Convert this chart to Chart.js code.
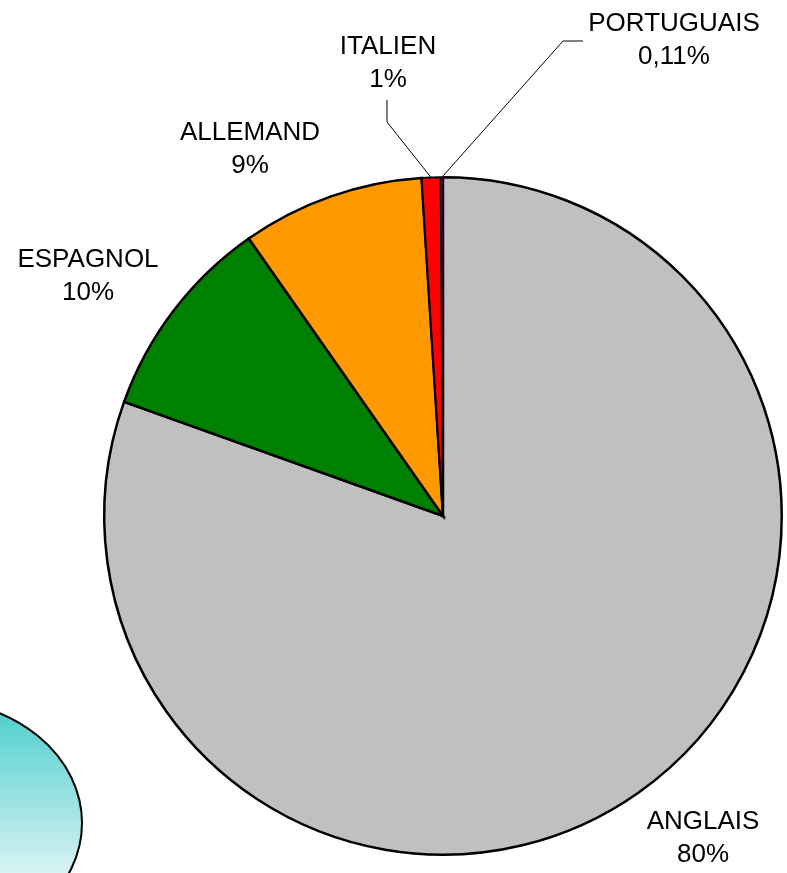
<!DOCTYPE html>
<html>
<head>
<meta charset="utf-8">
<script src="https://cdn.jsdelivr.net/npm/chart.js@4/dist/chart.umd.min.js"></script>
<style>
  html, body { margin: 0; padding: 0; background: #fff; }
  #wrap { width: 787px; height: 873px; position: relative; }
</style>
</head>
<body>
<div id="wrap"><canvas id="pie" width="787" height="873"></canvas></div>
<script>
const langues = ['ANGLAIS', 'ESPAGNOL', 'ALLEMAND', 'ITALIEN', 'PORTUGUAIS'];
const parts = [80.4, 9.8, 8.7, 0.9, 0.11];
const couleurs = ['#C0C0C0', '#008000', '#FF9900', '#FF0000', '#660066'];

// where each label sits, relative to the pie centre (layout only)
const labelPos = [
  { dx: 260, dy: 322 },
  { dx: -355, dy: -240 },
  { dx: -193, dy: -367 },
  { dx: -55, dy: -453, leader: [[-56, -394], [-56, -416]] },
  { dx: 231, dy: -476, leader: [[120, -475], [140, -475]] }
];

function fmtPct(v, total) {
  const p = v / total * 100;
  if (p < 0.5) return p.toFixed(2).replace('.', ',') + '%';
  return Math.round(p) + '%';
}

const backdrop = {
  id: 'backdrop',
  beforeDraw(chart) {
    const ctx = chart.ctx;
    ctx.save();
    const g = ctx.createLinearGradient(0, 700, 0, 946);
    g.addColorStop(0, '#48CCCC');
    g.addColorStop(0.75, '#E2F5F5');
    g.addColorStop(1, '#F2FBFB');
    ctx.beginPath();
    ctx.ellipse(-68, 823, 150, 123, 0, 0, Math.PI * 2);
    ctx.fillStyle = g;
    ctx.fill();
    ctx.lineWidth = 2;
    ctx.strokeStyle = '#000';
    ctx.stroke();
    ctx.restore();
  }
};

const pieLabels = {
  id: 'pieLabels',
  afterDraw(chart) {
    const ctx = chart.ctx;
    const meta = chart.getDatasetMeta(0);
    const data = chart.data.datasets[0].data;
    const total = data.reduce((a, b) => a + b, 0);
    ctx.save();
    ctx.font = '26px "Liberation Sans", Arial, sans-serif';
    ctx.fillStyle = '#000';
    ctx.textAlign = 'center';
    ctx.textBaseline = 'middle';
    meta.data.forEach((arc, i) => {
      const pos = labelPos[i];
      const cx = arc.x, cy = arc.y;
      const mid = (arc.startAngle + arc.endAngle) / 2;
      if (pos.leader) {
        const ex = cx + arc.outerRadius * Math.cos(mid);
        const ey = cy + arc.outerRadius * Math.sin(mid);
        ctx.beginPath();
        ctx.moveTo(ex, ey);
        ctx.lineTo(cx + pos.leader[0][0], cy + pos.leader[0][1]);
        ctx.lineTo(cx + pos.leader[1][0], cy + pos.leader[1][1]);
        ctx.lineWidth = 1;
        ctx.strokeStyle = '#000';
        ctx.stroke();
      }
      const lx = cx + pos.dx, ly = cy + pos.dy;
      ctx.fillText(chart.data.labels[i], lx, ly - 16);
      ctx.fillText(fmtPct(data[i], total), lx, ly + 17);
    });
    ctx.restore();
  }
};

new Chart(document.getElementById('pie'), {
  type: 'pie',
  data: {
    labels: langues,
    datasets: [{
      data: parts,
      backgroundColor: couleurs,
      borderColor: '#000',
      borderWidth: [2.5, 2.5, 2.5, 2, 1],
      borderJoinStyle: 'miter'
    }]
  },
  options: {
    responsive: false,
    animation: false,
    layout: { padding: { left: 103, right: 4, top: 176, bottom: 17 } },
    plugins: {
      legend: { display: false },
      tooltip: { enabled: false }
    }
  },
  plugins: [backdrop, pieLabels]
});
</script>
</body>
</html>
